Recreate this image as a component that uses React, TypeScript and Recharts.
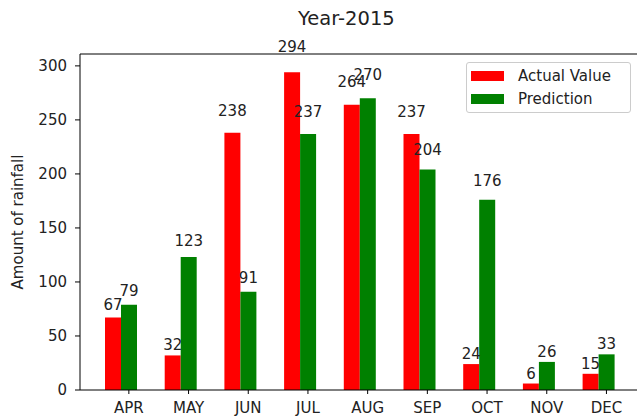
import { BarChart, Bar, XAxis, YAxis, LabelList, ReferenceLine } from "recharts"

const months = ["APR", "MAY", "JUN", "JUL", "AUG", "SEP", "OCT", "NOV", "DEC"]
const actualValues = [67, 32, 238, 294, 264, 237, 24, 6, 15]
const predictionValues = [79, 123, 91, 237, 270, 204, 176, 26, 33]
const yTicks = [0, 50, 100, 150, 200, 250, 300]

const FONT = "DejaVu Sans, sans-serif"
const TEXT = "#222"

const data = months.map((m, i) => ({
  month: m,
  actual: actualValues[i],
  prediction: predictionValues[i],
}))

const legendItems = [
  { name: "Actual Value", color: "#ff0000" },
  { name: "Prediction", color: "#008000" },
]

// bar labels sit a little above the bar, like matplotlib's height*1.05
const renderLabel = (props: any) => {
  const { x, y, width, height, value } = props
  return (
    <text
      x={Number(x) + Number(width) / 2}
      y={Number(y) - Number(height) * 0.05 - 4}
      textAnchor="middle"
      fontSize={15}
      fontFamily={FONT}
      fill={TEXT}
    >
      {value}
    </text>
  )
}

const MonthTick = (props: any) => {
  const { x, y, payload } = props
  const cx = x + 8
  return (
    <g>
      <line x1={cx} y1={y} x2={cx} y2={y + 4} stroke="#000" />
      <text x={cx} y={y + 23} textAnchor="middle" fontSize={15} fontFamily={FONT} fill={TEXT}>
        {payload.value}
      </text>
    </g>
  )
}

const LegendBox = () => (
  <div
    style={{
      position: "absolute",
      left: 466,
      top: 62,
      width: 165,
      height: 51,
      border: "1px solid #ccc",
      borderRadius: 3,
      background: "rgba(255,255,255,0.8)",
      fontFamily: FONT,
      fontSize: 15,
      color: TEXT,
      boxSizing: "border-box",
    }}
  >
    {legendItems.map((item, i) => (
      <div
        key={item.name}
        style={{ position: "absolute", left: 4, top: 6 + i * 23, display: "flex", alignItems: "center", height: 14 }}
      >
        <span style={{ display: "inline-block", width: 33, height: 10, background: item.color }} />
        <span style={{ marginLeft: 14, lineHeight: "14px" }}>{item.name}</span>
      </div>
    ))}
  </div>
)

export default function App() {
  return (
    <div style={{ position: "absolute", left: 0, top: 0, width: 637, height: 420, overflow: "hidden", background: "#fff" }}>
      <div
        style={{
          position: "absolute",
          left: 298,
          top: 7,
          fontFamily: FONT,
          fontSize: 19.5,
          color: TEXT,
          whiteSpace: "nowrap",
        }}
      >
        Year-2015
      </div>
      <BarChart
        width={660}
        height={420}
        data={data}
        margin={{ top: 54, right: 20, bottom: 0, left: 0 }}
        barGap={0}
        barSize={16}
      >
        <XAxis
          dataKey="month"
          height={30}
          padding={{ left: 11, right: 11.7 }}
          tickSize={0}
          tickMargin={0}
          tickLine={false}
          tick={<MonthTick />}
          stroke="#000"
          interval={0}
        />
        <YAxis
          width={80}
          domain={[0, 311]}
          ticks={yTicks}
          tickSize={5}
          tickMargin={8}
          stroke="#000"
          tick={{ fontSize: 15, fontFamily: FONT, fill: TEXT }}
          label={{
            content: () => (
              <text
                x={18}
                y={222}
                transform="rotate(-90 18 222)"
                textAnchor="middle"
                dominantBaseline="middle"
                fontSize={15}
                fontFamily={FONT}
                fill={TEXT}
              >
                Amount of rainfall
              </text>
            ),
          }}
        />
        <ReferenceLine y={311} stroke="#000" />
        <Bar dataKey="actual" name="Actual Value" fill="#ff0000" isAnimationActive={false}>
          <LabelList dataKey="actual" content={renderLabel} />
        </Bar>
        <Bar dataKey="prediction" name="Prediction" fill="#008000" isAnimationActive={false}>
          <LabelList dataKey="prediction" content={renderLabel} />
        </Bar>
      </BarChart>
      <LegendBox />
    </div>
  )
}
